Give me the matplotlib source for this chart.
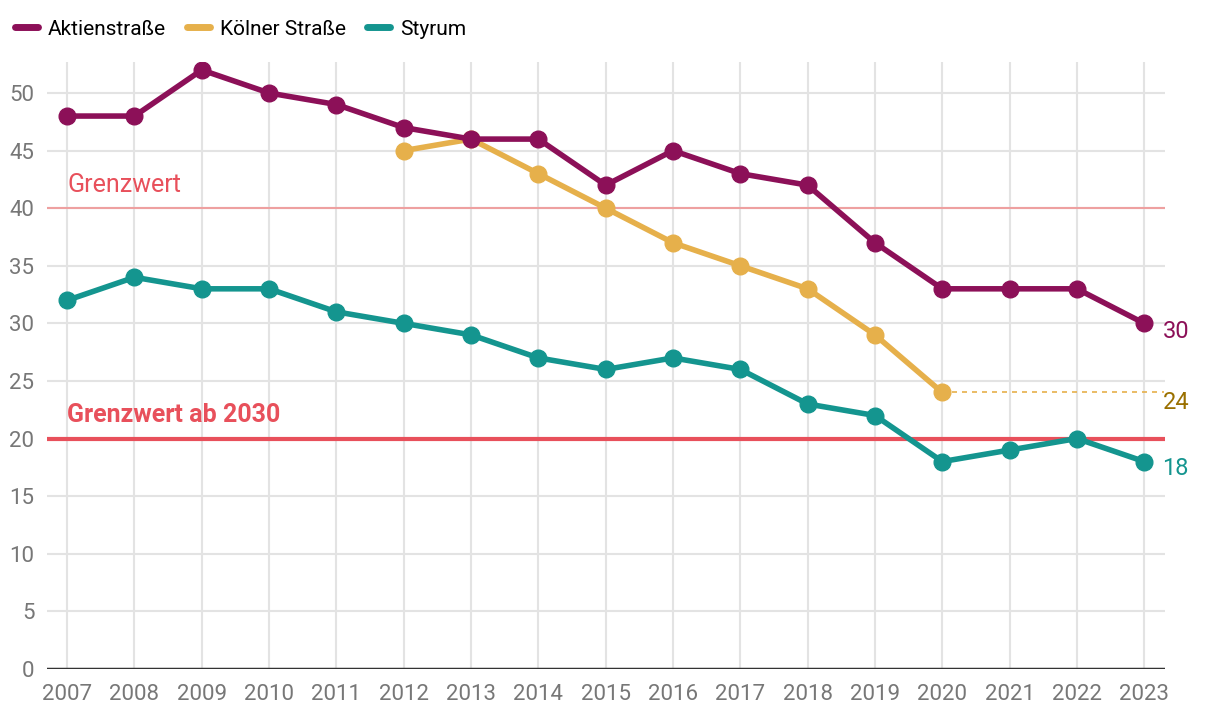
import matplotlib.pyplot as plt
from matplotlib.lines import Line2D

plt.rcParams['font.family'] = ['Roboto', 'DejaVu Sans']

years = list(range(2007, 2024))
aktien = [48, 48, 52, 50, 49, 47, 46, 46, 42, 45, 43, 42, 37, 33, 33, 33, 30]
koelner_years = list(range(2012, 2021))
koelner = [45, 46, 43, 40, 37, 35, 33, 29, 24]
styrum = [32, 34, 33, 33, 31, 30, 29, 27, 26, 27, 26, 23, 22, 18, 19, 20, 18]

c_akt = '#8c1058'
c_koe = '#e6b04b'
c_sty = '#14958f'
c_red = '#e8505b'

fig = plt.figure(figsize=(12.2, 7.2), dpi=100)
ax = fig.add_axes([0.0385, 0.071, 0.9165, 0.843])

ax.set_xlim(2006.7, 2023.31)
ax.set_ylim(0, 52.7)
ax.set_xticks(years)
ax.set_yticks(range(0, 51, 5))
ax.grid(True, color='#e3e3e3', lw=1.5)
ax.set_axisbelow(True)
for s in ax.spines.values():
    s.set_visible(False)
ax.tick_params(length=0, labelsize=16, labelcolor='#777777')
ax.tick_params(axis='x', pad=11)
ax.tick_params(axis='y', pad=9)

# Grenzwerte
ax.axhline(40, color='#eea0a0', lw=1.5, zorder=1)
ax.axhline(20, color=c_red, lw=3, zorder=1)
ax.text(2007, 41.0, 'Grenzwert', color=c_red, fontsize=18, va='bottom')
ax.text(2007, 21.0, 'Grenzwert ab 2030', color=c_red, fontsize=18,
        fontweight='bold', va='bottom')
ax.axhline(0, color='#333333', lw=2.5, zorder=2)

kw = dict(lw=4, marker='o', markersize=12, solid_capstyle='round')
ax.plot(years, styrum, color=c_sty, zorder=3, **kw)
ax.plot(koelner_years, koelner, color=c_koe, zorder=4, **kw)
ax.plot(years, aktien, color=c_akt, zorder=5, **kw)
ax.plot([koelner_years[-1], 2023.3], [koelner[-1], koelner[-1]], color=c_koe,
        lw=1.2, ls=(0, (3, 3)), zorder=3)

ax.text(2023.27, aktien[-1] - 0.7, str(aktien[-1]), color=c_akt, fontsize=17, va='center')
ax.text(2023.27, koelner[-1] - 0.9, str(koelner[-1]), color='#9a7000', fontsize=17, va='center')
ax.text(2023.27, styrum[-1] - 0.6, str(styrum[-1]), color=c_sty, fontsize=17, va='center')

# Legende
handles = [Line2D([], [], color=c, lw=5, solid_capstyle='round') for c in (c_akt, c_koe, c_sty)]
fig.legend(handles, ['Aktienstraße', 'Kölner Straße', 'Styrum'], loc='upper left',
           bbox_to_anchor=(0.0, 0.993), ncol=3, frameon=False, fontsize=15,
           handlelength=1.1, handletextpad=0.5, columnspacing=1.0, borderaxespad=0.3)

fig.savefig('out.png', dpi=100)
